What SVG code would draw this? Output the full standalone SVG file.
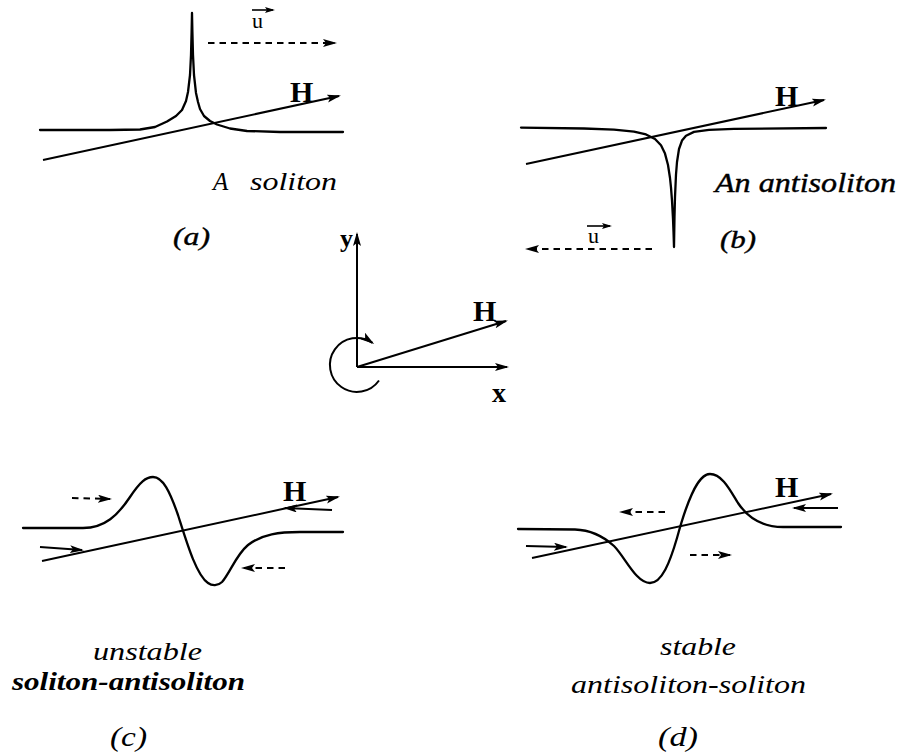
<svg xmlns="http://www.w3.org/2000/svg" width="906" height="755" viewBox="0 0 906 755">
<style>
.c{fill:none;stroke:#000;stroke-width:2.3;stroke-linejoin:round;stroke-linecap:round}
.l{fill:none;stroke:#000;stroke-width:2}
.d{fill:none;stroke:#000;stroke-width:2;stroke-dasharray:6.5 5}
.v{fill:none;stroke:#000;stroke-width:1.6}
.t{font-family:"Liberation Serif","Times New Roman",serif;fill:#000}
.i{font-style:italic}
.b{font-weight:bold}
.m{stroke:#000;stroke-width:0.4}
</style>
<defs>
<marker id="ah" markerUnits="userSpaceOnUse" markerWidth="16" markerHeight="10" refX="12" refY="4" orient="auto"><path d="M0,0 L14,4 L0,8 L3,4 z" fill="#000"/></marker>
<marker id="as" markerUnits="userSpaceOnUse" markerWidth="10" markerHeight="8" refX="8" refY="3" orient="auto"><path d="M0,0 L10,3 L0,6 L2,3 z" fill="#000"/></marker>
</defs>
<g id="connectors">
<path class="l" d="M43,160 L339,96" marker-end="url(#ah)"/>
<path class="d" d="M208,43 L335,43" marker-end="url(#ah)"/>
<path class="v" d="M252,10 L273,10" marker-end="url(#as)"/>
<path class="l" d="M526,164 L824,100" marker-end="url(#ah)"/>
<path class="d" d="M652,249 L527,249" marker-end="url(#ah)"/>
<path class="v" d="M587,226 L610,226" marker-end="url(#as)"/>
<path class="l" d="M357,367 L357,234" marker-end="url(#ah)"/>
<path class="l" d="M357,367 L507,367" marker-end="url(#ah)"/>
<path class="l" d="M357,367 L506,321" marker-end="url(#ah)"/>
<path class="l" d="M379,380.5 A27,27 0 1 1 372.5,342.9" marker-end="url(#ah)"/>
<path class="l" d="M42,561 L338,497" marker-end="url(#ah)"/>
<path class="l" d="M40,547 L82,550" marker-end="url(#ah)"/>
<path class="l" d="M332,510 L285,508" marker-end="url(#ah)"/>
<path class="d" d="M72,498 L110,499" marker-end="url(#ah)"/>
<path class="d" d="M285,568 L243,568" marker-end="url(#ah)"/>
<path class="l" d="M532,558 L831,494" marker-end="url(#ah)"/>
<path class="l" d="M526,546 L566,547" marker-end="url(#ah)"/>
<path class="l" d="M838,508 L794,508" marker-end="url(#ah)"/>
<path class="d" d="M665,512 L621,512" marker-end="url(#ah)"/>
<path class="d" d="M690,555 L730,555" marker-end="url(#ah)"/>
</g>
<g id="soliton">
<path class="c" d="M40,130 L110,130 L140,129.5 L155,127 L167,121.5 L176,116 L182,110 L186,101 L188,92 L190,75 L191,55 L191.6,32 L192,13 L192.4,32 L193,55 L194,75 L196,93 L198,102 L200,109 L204,116 L210,121 L217,124.5 L230,128.5 L247,131 L280,132 L343,132"/>
<text class="t" x="252" y="28" font-size="22">u</text>
<text class="t b" x="290" y="102" font-size="30">H</text>
<text class="t i" x="213" y="190" font-size="25">A<tspan x="250" textLength="87" lengthAdjust="spacingAndGlyphs">soliton</tspan></text>
<text class="t i m" x="173" y="245" font-size="25" textLength="37" lengthAdjust="spacingAndGlyphs">(a)</text>
</g>
<g id="antisoliton">
<path class="c" d="M521,127.6 L584,128.5 L614,129.7 L634,131.7 L646,134.4 L655,139 L661,145.3 L665,153.6 L668,165 L670,178 L671,187.6 L672,200.6 L673,219 L673.5,231.5 L674,247 L674.5,216.4 L675,197 L676,174.5 L677,162 L679,149 L682,140.6 L686,135.7 L694,131.9 L709,129.8 L734,128.85 L826,128"/>
<text class="t" x="588" y="243" font-size="22">u</text>
<text class="t b" x="775" y="106" font-size="30">H</text>
<text class="t i m" x="715" y="192" font-size="27" textLength="181" lengthAdjust="spacingAndGlyphs">An antisoliton</text>
<text class="t i m" x="720" y="248" font-size="25" textLength="36" lengthAdjust="spacingAndGlyphs">(b)</text>
</g>
<g id="axes">
<text class="t b" x="340" y="247" font-size="26">y</text>
<text class="t b" x="492" y="402" font-size="28">x</text>
<text class="t b" x="473" y="321" font-size="30">H</text>
</g>
<g id="pair-c">
<path class="c" d="M23,528 L83,528 C105,528 118,515 130,497 C140,482 146,477 153,477 C163,477 170,492 178,515 C186,540 196,575 208,583 C212,586 218,586 222,582 C230,573 236,555 248,545 C262,534 280,532 300,532 L343,532"/>
<text class="t b" x="283" y="501" font-size="30">H</text>
<text class="t i" x="93" y="660" font-size="26" textLength="109" lengthAdjust="spacingAndGlyphs">unstable</text>
<text class="t i b" x="12" y="690" font-size="26" textLength="233" lengthAdjust="spacingAndGlyphs">soliton-antisoliton</text>
<text class="t i" x="110" y="746" font-size="28" textLength="37" lengthAdjust="spacingAndGlyphs">(c)</text>
</g>
<g id="pair-d">
<path class="c" d="M518,529 L575,529.5 C590,530 603,536 614,546 C625,557 636,583 650,583 C662,583 670,562 677,538 C686,505 697,474 710,474 C722,474 730,490 738,503 C748,518 762,527 783,527 L841,527"/>
<text class="t b" x="775" y="497" font-size="30">H</text>
<text class="t i" x="660" y="655" font-size="26" textLength="76" lengthAdjust="spacingAndGlyphs">stable</text>
<text class="t i" x="571" y="693" font-size="26" textLength="235" lengthAdjust="spacingAndGlyphs">antisoliton-soliton</text>
<text class="t i" x="658" y="746" font-size="28" textLength="40" lengthAdjust="spacingAndGlyphs">(d)</text>
</g>
</svg>
